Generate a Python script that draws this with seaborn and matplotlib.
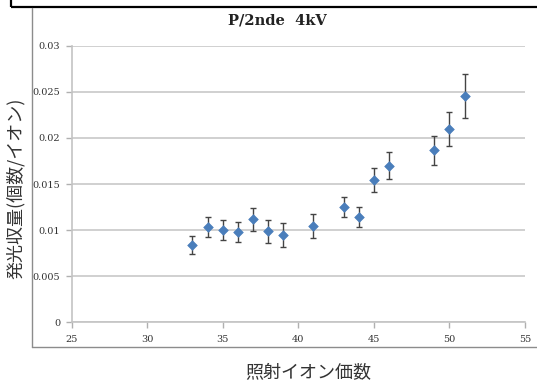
import matplotlib
matplotlib.use("Agg")
import matplotlib.pyplot as plt
from matplotlib.lines import Line2D
from matplotlib.patches import Rectangle
import seaborn as sns
import pandas as pd

# Ion charge state vs. light yield (counts per ion), with uncertainties
charge = [33, 34, 35, 36, 37, 38, 39, 41, 43, 44, 45, 46, 49, 50, 51]
light_yield = [0.00838, 0.01037, 0.00998, 0.00976, 0.01117, 0.00987, 0.00947,
               0.01041, 0.01254, 0.01139, 0.0154, 0.01699, 0.01866, 0.02093, 0.02451]
yield_err = [0.00093, 0.00108, 0.0011, 0.0011, 0.00125, 0.00126, 0.00125,
             0.0013, 0.0011, 0.0011, 0.0013, 0.00147, 0.0016, 0.00186, 0.0024]

x_ticks = [25, 30, 35, 40, 45, 50, 55]
y_ticks = [0, 0.005, 0.01, 0.015, 0.02, 0.025, 0.03]
y_tick_labels = ["0", "0.005", "0.01", "0.015", "0.02", "0.025", "0.03"]

df = pd.DataFrame({"charge": charge, "yield": light_yield, "err": yield_err})

sns.set_theme(style="white")
plt.rcParams["font.family"] = ["Noto Sans CJK JP", "DejaVu Sans"]

W, H = 537, 381
fig = plt.figure(figsize=(W / 100, H / 100), dpi=100)
ax = fig.add_axes([71.5 / W, 1 - 322.3 / H, (525 - 71.5) / W, (322.3 - 45.7) / H])

grid_c = "#c4c4c4"
ax.set_axisbelow(True)
ax.yaxis.grid(True, color=grid_c, linewidth=1.1)
ax.xaxis.grid(False)

ax.errorbar(df["charge"], df["yield"], yerr=df["err"], fmt="none",
            ecolor="#444444", elinewidth=1.0, capsize=2.2, capthick=1.0, zorder=2)
sns.scatterplot(data=df, x="charge", y="yield", marker="D", s=24,
                color="#4a7ebb", edgecolor="#4a7ebb", linewidth=0.5, ax=ax, zorder=3)

ax.set_xlim(25, 55)
ax.set_ylim(0, 0.03)
ax.set_xticks(x_ticks)
ax.set_yticks(y_ticks)
ax.set_yticklabels(y_tick_labels)
ax.set_xlabel("")
ax.set_ylabel("")

for side in ("top", "right"):
    ax.spines[side].set_visible(False)
for side in ("left", "bottom"):
    ax.spines[side].set_color(grid_c)
    ax.spines[side].set_linewidth(1.2)

ax.tick_params(axis="both", which="major", direction="out", length=4,
               width=1.0, color="#b0b0b0", labelsize=7, labelcolor="#333333",
               left=True, bottom=True)
ax.tick_params(axis="y", pad=4)
ax.tick_params(axis="x", pad=5)
for lab in ax.get_xticklabels() + ax.get_yticklabels():
    lab.set_family("DejaVu Serif")

# Title and axis labels
fig.text(277.5 / W, 1 - 20 / H, "P/2nde  4kV", ha="center", va="center",
         fontsize=10.5, fontweight="bold", family="DejaVu Serif", color="#222222")
fig.text(308 / W, 1 - 373 / H, "照射イオン価数", ha="center", va="center",
         fontsize=13, color="#333333")
fig.text(16 / W, 1 - 188 / H, "発光収量(個数/イオン)", ha="center", va="center",
         rotation=90, fontsize=13, color="#333333")

# Surrounding frames
fig.add_artist(Rectangle((11 / W, 1 - 6.5 / H), (W + 10 - 11) / W, 20 / H,
                         transform=fig.transFigure, fill=False,
                         edgecolor="black", linewidth=1.6, clip_on=False))
fig.add_artist(Line2D([32 / W, 32 / W], [1 - 7.5 / H, 1 - 346.5 / H],
                      transform=fig.transFigure, color="#8c8c8c", linewidth=1.0))
fig.add_artist(Line2D([32 / W, 1.0], [1 - 346.5 / H, 1 - 346.5 / H],
                      transform=fig.transFigure, color="#8c8c8c", linewidth=1.0))

fig.savefig("out.png", dpi=100)
